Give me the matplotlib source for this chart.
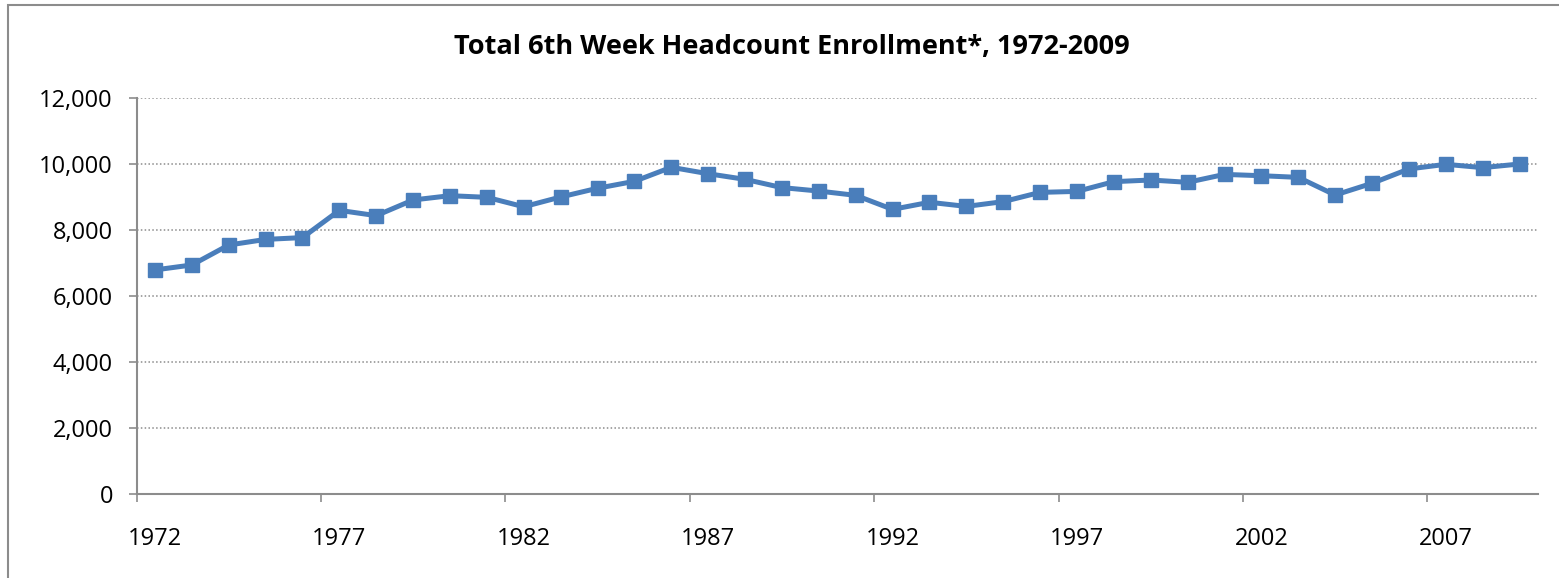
import matplotlib
matplotlib.use("Agg")
import matplotlib.pyplot as plt
from matplotlib.patches import Rectangle
from matplotlib.ticker import FuncFormatter

# data
years = list(range(1972, 2010))
enrollment = [6790, 6940, 7545, 7715, 7770, 8595, 8435, 8910, 9040, 8990,
              8705, 9000, 9265, 9475, 9900, 9705, 9535, 9285, 9180, 9050,
              8625, 8840, 8715, 8860, 9140, 9170, 9465, 9515, 9445, 9685,
              9645, 9595, 9060, 9415, 9850, 9990, 9890, 10000]
label_years = [1972, 1977, 1982, 1987, 1992, 1997, 2002, 2007]
y_ticks = [0, 2000, 4000, 6000, 8000, 10000, 12000]

plt.rcParams['font.family'] = ['Open Sans', 'DejaVu Sans']

fig = plt.figure(figsize=(15.59, 5.78), dpi=100)
W, H = 1559, 578
# plot area in pixels from the reference
left, right, top, bottom = 136.5, 1538, 98, 494
ax = fig.add_axes([left / W, 1 - bottom / H, (right - left) / W, (bottom - top) / H])

# outer chart border (right and bottom edges fall outside the picture)
fig.patches.append(Rectangle((8 / W, -0.05), 1.2, 1.05 - 5 / H,
                             transform=fig.transFigure, fill=False,
                             edgecolor='#8c8c8c', linewidth=1.5))

x = list(range(len(years)))
ax.plot(x, enrollment, color='#4A7EBB', linewidth=3.6, marker='s',
        markersize=10.5, markerfacecolor='#4A7EBB', markeredgecolor='#4A7EBB',
        zorder=3, clip_on=False)

ax.set_xlim(-0.5, len(years) - 0.5)
ax.set_ylim(0, 12000)
ax.set_yticks(y_ticks)
ax.yaxis.set_major_formatter(FuncFormatter(lambda v, p: f"{int(v):,}"))
ax.grid(axis='y', color='#8c8c8c', linestyle=(0, (1, 1.5)), linewidth=1.1)
ax.set_axisbelow(True)

# tick marks at category boundaries, labels at category centres
ax.set_xticks([i - 0.5 for i in range(0, len(years), 5)])
ax.set_xticklabels([])
ax.set_xticks([years.index(yr) for yr in label_years], minor=True)
ax.set_xticklabels([str(yr) for yr in label_years], minor=True)
ax.tick_params(axis='x', which='major', length=6, color='#8c8c8c', width=1.2, direction='out')
ax.tick_params(axis='x', which='minor', length=0, pad=24, labelsize=17)
ax.tick_params(axis='y', length=6, color='#8c8c8c', width=1.2, labelsize=17, pad=11)

for s in ['top', 'right']:
    ax.spines[s].set_visible(False)
for s in ['left', 'bottom']:
    ax.spines[s].set_color('#8c8c8c')
    ax.spines[s].set_linewidth(1.5)

fig.text(792 / W, 1 - 47 / H,
         "Total 6th Week Headcount Enrollment*, 1972-2009",
         ha='center', va='center', fontsize=19.5, fontweight='bold')

fig.savefig("out.png", dpi=100)
